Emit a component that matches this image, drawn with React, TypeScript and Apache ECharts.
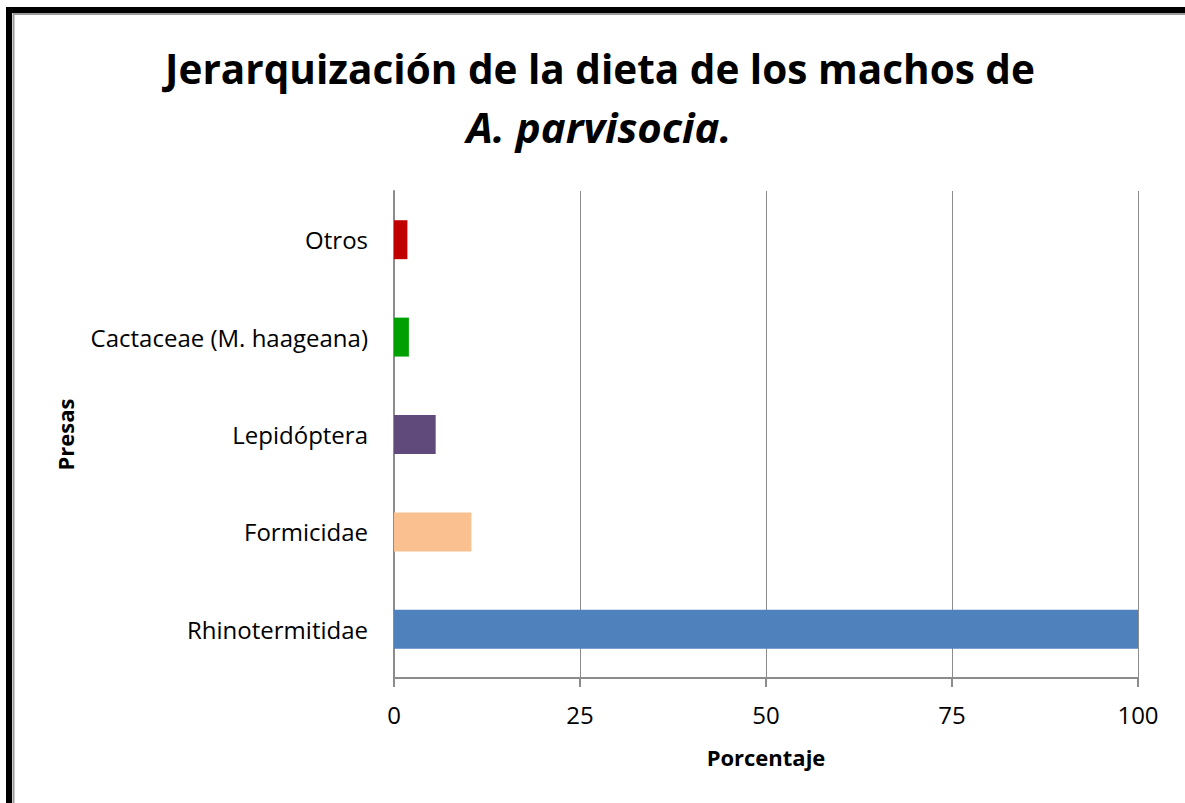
import React, { useEffect, useRef } from "react";
import * as echarts from "echarts";

const categories = ["Rhinotermitidae", "Formicidae", "Lepidóptera", "Cactaceae (M. haageana)", "Otros"];
const values = [100, 10.4, 5.6, 2.0, 1.8];
const colors = ["#4F81BD", "#FAC090", "#604A7B", "#00A000", "#C00000"];
const xTicks = [0, 25, 50, 75, 100];
const titleLine1 = "Jerarquización de la dieta de los machos de";
const titleLine2 = "A. parvisocia.";

const FONT = "'Open Sans', 'Liberation Sans', sans-serif";

export default function App() {
  const ref = useRef<HTMLDivElement>(null);
  useEffect(() => {
    const chart = echarts.init(ref.current!, null, { renderer: "svg" });
    chart.setOption({
      animation: false,
      backgroundColor: "#fff",
      graphic: [
        {
          type: "text",
          x: 600,
          y: 48,
          style: {
            text: titleLine1,
            font: `bold 40.5px ${FONT}`,
            fill: "#000",
            align: "center",
            verticalAlign: "top",
          },
        },
        {
          type: "text",
          x: 599,
          y: 105,
          style: {
            text: titleLine2,
            font: `italic bold 42px ${FONT}`,
            fill: "#000",
            align: "center",
            verticalAlign: "top",
          },
        },
        {
          type: "rect",
          shape: { x: 9, y: 10, width: 1300, height: 1000 },
          style: { fill: "none", stroke: "#000", lineWidth: 6 },
        },
        {
          type: "rect",
          shape: { x: 13.5, y: 14, width: 1300, height: 1000 },
          style: { fill: "none", stroke: "#999", lineWidth: 2 },
        },
      ],
      grid: { left: 394, right: 47, top: 191, bottom: 125 },
      xAxis: {
        type: "value",
        min: xTicks[0],
        max: xTicks[xTicks.length - 1],
        interval: 25,
        name: "Porcentaje",
        nameLocation: "middle",
        nameGap: 68,
        nameTextStyle: { fontFamily: FONT, fontWeight: "bold", fontSize: 22, color: "#000" },
        axisLine: { show: true, lineStyle: { color: "#8c8c8c", width: 2 } },
        axisTick: { show: true, length: 9, lineStyle: { color: "#8c8c8c", width: 2 } },
        axisLabel: { fontFamily: FONT, fontSize: 24, color: "#000", margin: 24 },
        splitLine: { show: true, lineStyle: { color: "#8c8c8c", width: 1 } },
      },
      yAxis: {
        type: "category",
        data: categories,
        name: "Presas",
        nameLocation: "middle",
        nameGap: 318,
        nameRotate: 90,
        nameTextStyle: { fontFamily: FONT, fontWeight: "bold", fontSize: 22, color: "#000" },
        axisLine: { show: true, lineStyle: { color: "#8c8c8c", width: 2 } },
        axisTick: { show: false },
        axisLabel: { fontFamily: FONT, fontSize: 24, color: "#000", margin: 26 },
        splitLine: { show: false },
      },
      series: [
        {
          type: "bar",
          data: values.map((v, i) => ({ value: v, itemStyle: { color: colors[i] } })),
          barCategoryGap: "60%",
        },
      ],
    });
    return () => chart.dispose();
  }, []);
  return (
    <div
      ref={ref}
      style={{ position: "fixed", left: 0, top: 0, width: 1185, height: 803 }}
    />
  );
}
